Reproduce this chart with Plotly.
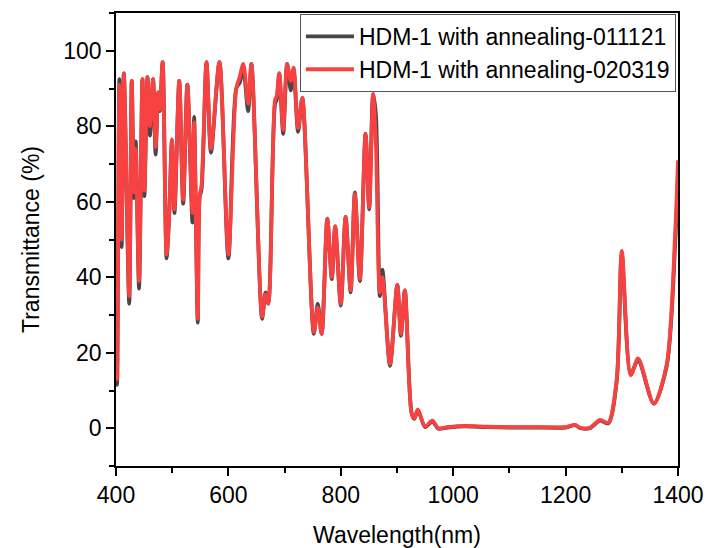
import plotly.graph_objects as go

wavelength = [400, 402, 406, 410, 414, 423.5, 428, 432, 435, 441, 447, 450.5, 456, 460.5, 466,
              470.5, 475, 478, 483, 490, 494.5, 499.5, 504, 512.5, 519.5, 527, 536, 539, 545.5,
              549, 552, 561, 569, 584, 600, 614, 620, 626.5, 635, 641, 660, 666, 671, 683, 686,
              690.5, 697.5, 704.5, 711, 716, 724, 731.5, 752, 759, 766, 776, 784, 790, 800,
              808.5, 817.5, 825, 834, 844, 850.5, 857.5, 862.5, 869.5, 874, 887.5, 900.5, 907,
              914, 926, 931, 937, 950, 963, 973.5, 990, 1020, 1060, 1100, 1150, 1200, 1217,
              1225, 1243, 1261, 1276, 1291, 1300, 1316, 1329, 1357, 1380, 1395, 1400]

t_011121 = [43, 11.5, 92.5, 48, 94, 33, 92, 61, 76, 37, 92.5, 61.5, 93, 77.5, 92.5,
            72.5, 89, 84, 97, 45, 56, 76, 57, 92, 59.5, 91, 54.5, 82.5, 28,
            61.5, 63, 97, 73, 97, 45, 90, 91.5, 95, 84, 96.5, 29, 36, 33, 86, 87,
            94, 78, 96.5, 89.5, 95, 78.5, 87.5, 25, 33, 25, 55.5, 39.5, 53.5, 32.5,
            56, 36, 62.5, 39, 78, 58, 88.5, 83, 35, 42, 16.5, 38, 24.5,
            36.5, 4, 2.5, 4.8, 0.3, 1.8, -0.1, 0.2, 0.5, 0.3, 0.2, 0.2, 0.2, 0.8,
            0.1, 0.0, 2.0, 1.3, 12.5, 46, 14.5, 18, 6.5, 16.5, 49, 67]

t_020319 = [43, 13, 91, 50, 94, 35, 92, 62.5, 74, 39, 92.5, 63, 93, 80, 92.5,
            74.5, 89, 84.5, 97, 46, 56, 76.5, 58, 92, 60.5, 91, 57, 81, 29,
            62, 64, 97, 74, 97, 46, 90, 93, 96.5, 86, 96.5, 29.5, 35.5, 33, 87, 88,
            94, 79, 96.5, 92, 95.5, 79.5, 87.5, 25.5, 32, 25, 55.5, 40, 53.5, 33,
            56, 36.5, 62, 39.5, 78, 58.5, 88.5, 75, 36, 40, 17, 38, 25,
            36.5, 4, 2.7, 5, 0.5, 2, 0, 0.3, 0.6, 0.4, 0.3, 0.3, 0.3, 0.9,
            0.2, 0.1, 2.2, 1.5, 13, 47, 14, 18.5, 6.5, 17, 52, 71]

series_names = ["HDM-1 with annealing-011121", "HDM-1 with annealing-020319"]
series_colors = ["#474747", "#f84242"]

font_family = "Liberation Sans, Arial, sans-serif"

fig = go.Figure()
for name, vals, col in zip(series_names, [t_011121, t_020319], series_colors):
    fig.add_trace(go.Scatter(
        x=wavelength, y=vals, mode="lines", name=name,
        line=dict(color=col, width=3.8, shape="spline", smoothing=0.8),
    ))

axis_common = dict(
    showline=True, linecolor="black", linewidth=1.6, mirror=True,
    ticks="outside", ticklen=8, tickwidth=1.6, tickcolor="black",
    showgrid=False, zeroline=False,
    tickfont=dict(family=font_family, size=23, color="black"),
)

fig.update_xaxes(
    range=[400, 1400], tick0=400, dtick=200,
    minor=dict(dtick=100, ticks="outside", ticklen=5, tickwidth=1.6, tickcolor="black"),
    title=dict(text="Wavelength(nm)", font=dict(family=font_family, size=23, color="black"), standoff=24),
    **axis_common,
)
fig.update_yaxes(
    range=[-10, 110], tick0=0, dtick=20,
    minor=dict(dtick=10, ticks="outside", ticklen=5, tickwidth=1.6, tickcolor="black"),
    title=dict(text="Transmittance (%)", font=dict(family=font_family, size=23, color="black"), standoff=17),
    **axis_common,
)

fig.update_layout(
    width=707, height=548,
    margin=dict(l=116, r=29, t=13, b=82, autoexpand=False),
    paper_bgcolor="white", plot_bgcolor="white",
    font=dict(family=font_family, size=22, color="black"),
    showlegend=True,
    legend=dict(
        x=0.9964, y=0.998, xanchor="right", yanchor="top",
        bgcolor="white", bordercolor="#555555", borderwidth=1,
        font=dict(family=font_family, size=23, color="black"),
        tracegroupgap=0, itemwidth=48,
    ),
)

fig.write_html("out.html")
